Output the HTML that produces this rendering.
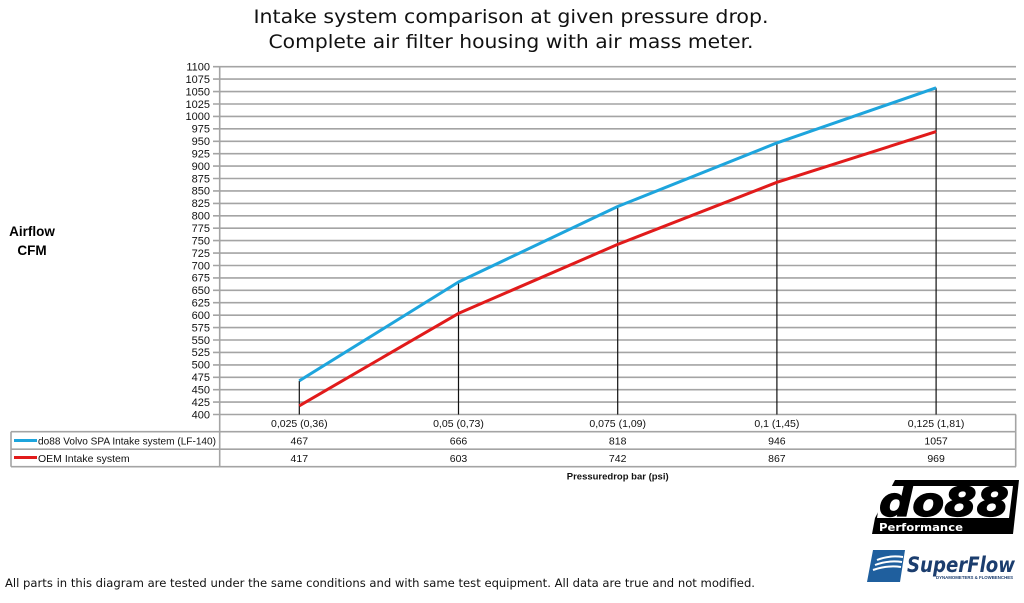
<!DOCTYPE html>
<html><head><meta charset="utf-8"><style>
html,body{margin:0;padding:0;background:#fff;}
svg{display:block;}
</style></head><body>
<svg width="1024" height="603" viewBox="0 0 1024 603" xmlns="http://www.w3.org/2000/svg">
<rect width="1024" height="603" fill="#fff"/>
<g font-family="'DejaVu Sans', Verdana, sans-serif" fill="#111" font-size="19" text-anchor="middle">
<text x="511" y="23" textLength="515" lengthAdjust="spacingAndGlyphs">Intake system comparison at given pressure drop.</text>
<text x="511" y="48" textLength="485" lengthAdjust="spacingAndGlyphs">Complete air filter housing with air mass meter.</text>
</g>
<g font-family="'Liberation Sans', Arial, sans-serif" font-weight="bold" font-size="13.5" fill="#000" text-anchor="middle">
<text x="32" y="236">Airflow</text>
<text x="32" y="255">CFM</text>
</g>
<!-- gridlines -->
<g stroke="#a4a4a4" stroke-width="1.6">
<line x1="213" y1="66.7" x2="1016" y2="66.7"/>
<line x1="213" y1="79.1" x2="1016" y2="79.1"/>
<line x1="213" y1="91.6" x2="1016" y2="91.6"/>
<line x1="213" y1="104.0" x2="1016" y2="104.0"/>
<line x1="213" y1="116.4" x2="1016" y2="116.4"/>
<line x1="213" y1="128.8" x2="1016" y2="128.8"/>
<line x1="213" y1="141.3" x2="1016" y2="141.3"/>
<line x1="213" y1="153.7" x2="1016" y2="153.7"/>
<line x1="213" y1="166.1" x2="1016" y2="166.1"/>
<line x1="213" y1="178.5" x2="1016" y2="178.5"/>
<line x1="213" y1="190.9" x2="1016" y2="190.9"/>
<line x1="213" y1="203.4" x2="1016" y2="203.4"/>
<line x1="213" y1="215.8" x2="1016" y2="215.8"/>
<line x1="213" y1="228.2" x2="1016" y2="228.2"/>
<line x1="213" y1="240.6" x2="1016" y2="240.6"/>
<line x1="213" y1="253.1" x2="1016" y2="253.1"/>
<line x1="213" y1="265.5" x2="1016" y2="265.5"/>
<line x1="213" y1="277.9" x2="1016" y2="277.9"/>
<line x1="213" y1="290.3" x2="1016" y2="290.3"/>
<line x1="213" y1="302.7" x2="1016" y2="302.7"/>
<line x1="213" y1="315.2" x2="1016" y2="315.2"/>
<line x1="213" y1="327.6" x2="1016" y2="327.6"/>
<line x1="213" y1="340.0" x2="1016" y2="340.0"/>
<line x1="213" y1="352.4" x2="1016" y2="352.4"/>
<line x1="213" y1="364.9" x2="1016" y2="364.9"/>
<line x1="213" y1="377.3" x2="1016" y2="377.3"/>
<line x1="213" y1="389.7" x2="1016" y2="389.7"/>
<line x1="213" y1="402.1" x2="1016" y2="402.1"/>
<line x1="213" y1="414.5" x2="1016" y2="414.5"/>
<!-- axis -->
<line x1="219.7" y1="66" x2="219.7" y2="466.7"/>
<!-- table -->
<line x1="1015.7" y1="414.5" x2="1015.7" y2="466.7"/>
<line x1="11" y1="431.7" x2="1016" y2="431.7"/>
<line x1="11" y1="449.2" x2="1016" y2="449.2"/>
<line x1="11" y1="466.7" x2="1016" y2="466.7"/>
<line x1="11" y1="431.7" x2="11" y2="466.7"/>
</g>
<!-- y labels -->
<g font-family="'Liberation Sans', Arial, sans-serif" font-size="11" fill="#111" text-anchor="end">
<text x="210" y="70.5">1100</text>
<text x="210" y="82.9">1075</text>
<text x="210" y="95.4">1050</text>
<text x="210" y="107.8">1025</text>
<text x="210" y="120.2">1000</text>
<text x="210" y="132.6">975</text>
<text x="210" y="145.1">950</text>
<text x="210" y="157.5">925</text>
<text x="210" y="169.9">900</text>
<text x="210" y="182.3">875</text>
<text x="210" y="194.7">850</text>
<text x="210" y="207.2">825</text>
<text x="210" y="219.6">800</text>
<text x="210" y="232.0">775</text>
<text x="210" y="244.4">750</text>
<text x="210" y="256.9">725</text>
<text x="210" y="269.3">700</text>
<text x="210" y="281.7">675</text>
<text x="210" y="294.1">650</text>
<text x="210" y="306.5">625</text>
<text x="210" y="319.0">600</text>
<text x="210" y="331.4">575</text>
<text x="210" y="343.8">550</text>
<text x="210" y="356.2">525</text>
<text x="210" y="368.7">500</text>
<text x="210" y="381.1">475</text>
<text x="210" y="393.5">450</text>
<text x="210" y="405.9">425</text>
<text x="210" y="418.3">400</text>
</g>
<!-- drop lines -->
<g stroke="#111" stroke-width="1.2">
<line x1="299.3" y1="380.8" x2="299.3" y2="414.5"/>
<line x1="458.5" y1="282.0" x2="458.5" y2="414.5"/>
<line x1="617.7" y1="206.5" x2="617.7" y2="414.5"/>
<line x1="776.9" y1="142.9" x2="776.9" y2="414.5"/>
<line x1="936.1" y1="87.8" x2="936.1" y2="414.5"/>
</g>
<polyline fill="none" stroke="#1ea5dd" stroke-width="3" stroke-linejoin="round" points="299.3,380.8 458.5,282.0 617.7,206.5 776.9,142.9 936.1,87.8"/>
<polyline fill="none" stroke="#e11b1b" stroke-width="3" stroke-linejoin="round" points="299.3,405.8 458.5,313.4 617.7,244.4 776.9,182.3 936.1,131.6"/>
<!-- table text -->
<g font-family="'Liberation Sans', Arial, sans-serif" font-size="10.5" fill="#111" text-anchor="middle">
<text x="299.3" y="427">0,025 (0,36)</text>
<text x="458.5" y="427">0,05 (0,73)</text>
<text x="617.7" y="427">0,075 (1,09)</text>
<text x="776.9" y="427">0,1 (1,45)</text>
<text x="936.1" y="427">0,125 (1,81)</text>
<text x="299.3" y="444.5">467</text>
<text x="458.5" y="444.5">666</text>
<text x="617.7" y="444.5">818</text>
<text x="776.9" y="444.5">946</text>
<text x="936.1" y="444.5">1057</text>
<text x="299.3" y="462">417</text>
<text x="458.5" y="462">603</text>
<text x="617.7" y="462">742</text>
<text x="776.9" y="462">867</text>
<text x="936.1" y="462">969</text>
</g>
<line x1="14" y1="440.5" x2="37" y2="440.5" stroke="#1ea5dd" stroke-width="3"/>
<line x1="14" y1="457.5" x2="37" y2="457.5" stroke="#e11b1b" stroke-width="3"/>
<g font-family="'Liberation Sans', Arial, sans-serif" font-size="10.5" fill="#111">
<text x="38" y="444.5" textLength="178" lengthAdjust="spacingAndGlyphs">do88 Volvo SPA Intake system (LF-140)</text>
<text x="38" y="462">OEM Intake system</text>
</g>
<text x="617.7" y="479.5" font-family="'Liberation Sans', Arial, sans-serif" font-size="9.5" font-weight="bold" fill="#111" text-anchor="middle">Pressuredrop bar (psi)</text>
<!-- bottom note -->
<text x="5" y="587" font-family="'DejaVu Sans', Verdana, sans-serif" font-size="11.5" fill="#111" textLength="750" lengthAdjust="spacingAndGlyphs">All parts in this diagram are tested under the same conditions and with same test equipment. All data are true and not modified.</text>
<!-- do88 logo -->
<polygon points="895,480 1019,480 1013,534 872,534 875,518" fill="#000"/>
<polygon points="882,486 1013,486 1009,518 877,518" fill="#fff"/>
<text x="944" y="516" font-family="'DejaVu Sans', Verdana, sans-serif" font-weight="bold" font-style="italic" font-size="40" fill="#000" text-anchor="middle" textLength="130" lengthAdjust="spacingAndGlyphs" stroke="#000" stroke-width="1.2">do88</text>
<text x="879" y="531" font-family="'DejaVu Sans', Verdana, sans-serif" font-weight="bold" font-size="11" fill="#fff" textLength="84" lengthAdjust="spacingAndGlyphs">Performance</text>
<!-- SuperFlow logo -->
<g>
<path d="M873,550 L905,550 L900,582 L867,582 Z" fill="#1f5f9e"/>
<path d="M877,560 Q889,555 903,557 M875,565 Q888,560 902,562 M873,570 Q887,565 901,567" stroke="#fff" stroke-width="2" fill="none"/>
<text x="907" y="572" font-family="'DejaVu Sans', Verdana, sans-serif" font-weight="bold" font-style="italic" font-size="21" fill="#1b3d6e" textLength="108" lengthAdjust="spacingAndGlyphs">SuperFlow</text>
<text x="936" y="579" font-family="'Liberation Sans', Arial, sans-serif" font-weight="bold" font-size="4.5" fill="#1b3d6e" textLength="77" lengthAdjust="spacingAndGlyphs">DYNAMOMETERS &amp; FLOWBENCHES</text>
</g>
</svg>
</body></html>
